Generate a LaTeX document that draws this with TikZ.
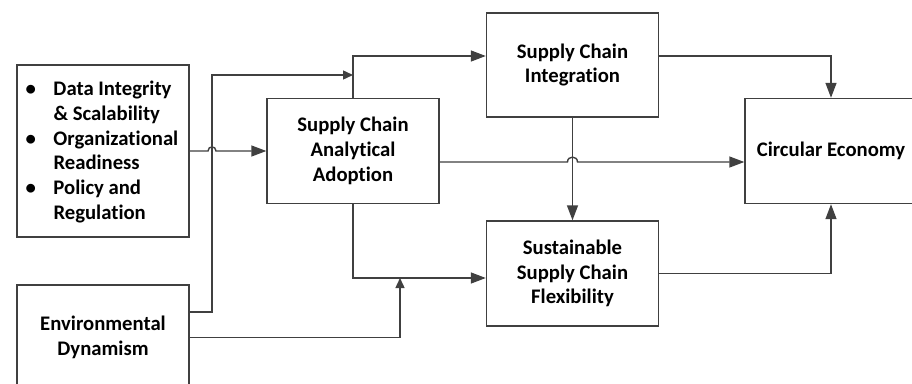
\documentclass[tikz,border=0pt]{standalone}
\usepackage{fontspec}
\setmainfont{Carlito}[Ligatures={NoCommon,NoContextual}]
\usetikzlibrary{arrows.meta}
\begin{document}
\begin{tikzpicture}[x=1pt,y=-1pt,
  lbl/.style={font=\fontsize{20.7}{24.8}\selectfont\bfseries},
  box/.style={lbl, draw=black!75, line width=1.4pt, minimum width=172pt,
    minimum height=105pt, inner sep=0pt, align=center},
  link/.style={draw=black!75, line width=1.4pt},
  arr/.style={link, -{Triangle[length=15pt,width=11pt]}},
  modarr/.style={link, -{Triangle[length=10pt,width=9pt]}}]
\useasboundingbox (0,0) rectangle (912,383);
\fill[white] (0,0) rectangle (912,383);

% boxes
\node[box, minimum height=172pt] (A) at (103,151) {};
\node[lbl, anchor=west, inner sep=0pt] (Alist) at ([xshift=9pt,yshift=-1.5pt]A.west)
  {\begin{tabular}{@{}p{28pt}@{}l@{}}
   \textbullet & Data Integrity\\
               & \& Scalability\\
   \textbullet & Organizational\\
               & Readiness\\
   \textbullet & Policy and\\
               & Regulation
   \end{tabular}};
\node[box] (Env) at (103,337.5) {Environmental\\Dynamism};
\node[box] (SCAA) at (353,151) {Supply Chain\\Analytical\\Adoption};
\node[box, minimum height=104pt] (SCI) at (572.5,65) {Supply Chain\\Integration};
\node[box] (SSCF) at (572.5,273.5) {Sustainable\\Supply Chain\\Flexibility};
\node[box] (CE) at (831,151) {Circular Economy};

% moderator targets on the paths
\coordinate (m1) at (353,75);
\coordinate (m2) at (400,278);

% connectors
\draw[arr] (A.east) -- (208,151) .. controls (208,145.5) and (216,145.5) .. (216,151) -- (SCAA.west);
\draw[arr] (SCAA.north) |- ([yshift=9pt]SCI.west);
\draw[modarr] ([yshift=25.5pt]Env.east) -| (212,75) -- (m1);
\draw[arr] (SCAA.south) |- ([yshift=-4.5pt]SSCF.west);
\draw[modarr] (Env.east) -| (m2);
\draw[arr] ([yshift=-11pt]SCAA.east) -- (567.5,162) .. controls (567.5,155.5) and (577.5,155.5) .. (577.5,162) -- ([yshift=-11pt]CE.west);
\draw[arr] (SCI.south) -- (SSCF.north);
\draw[arr] ([yshift=9pt]SCI.east) -| (CE.north);
\draw[arr] (SSCF.east) -| (CE.south);
\end{tikzpicture}
\end{document}
